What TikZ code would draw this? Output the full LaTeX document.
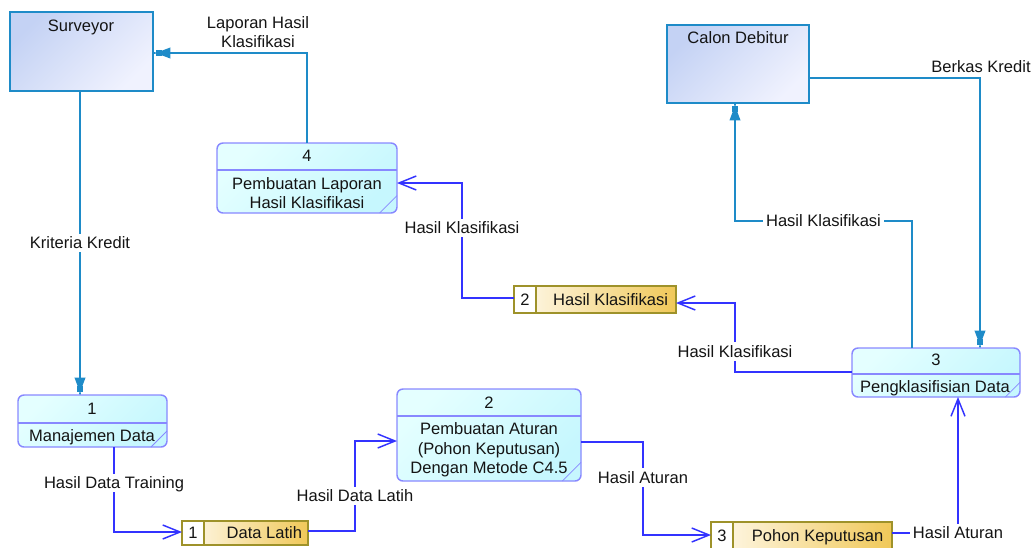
\documentclass[tikz,border=0pt]{standalone}
\usepackage{fontspec}
\setmainfont{Liberation Sans}
\usetikzlibrary{arrows.meta}
\definecolor{entedge}{RGB}{30,139,200}
\definecolor{enttop}{RGB}{196,210,244}
\definecolor{entbot}{RGB}{240,242,254}
\definecolor{procedge}{RGB}{136,136,255}
\definecolor{proctop}{RGB}{228,255,255}
\definecolor{procbot}{RGB}{198,247,254}
\definecolor{storeedge}{RGB}{158,146,42}
\definecolor{storeleft}{RGB}{255,250,238}
\definecolor{storeright}{RGB}{240,200,88}
\definecolor{flowblue}{RGB}{51,51,255}
\definecolor{ink}{RGB}{20,20,20}
\begin{document}
\begin{tikzpicture}[x=0.75pt,y=-0.75pt,
  font=\fontsize{12.4pt}{14.6pt}\selectfont, text=ink,
  every node/.style={inner sep=0pt, outer sep=0pt},
  size/.style 2 args={minimum width=#1*0.75pt, minimum height=#2*0.75pt},
  entity/.style={draw=entedge, line width=1.1pt, top color=enttop, bottom color=entbot, shading angle=45},
  process/.style={draw=procedge, line width=1.1pt, rounded corners=4.5pt, top color=proctop, bottom color=procbot, shading angle=45},
  procrule/.style={draw=procedge, line width=1.1pt},
  procfold/.style={draw=procedge, line width=0.6pt},
  store/.style={draw=storeedge, line width=1.1pt, left color=storeleft, right color=storeright},
  storenum/.style={draw=storeedge, line width=1.1pt, fill=white, one},
  one/.style={text height=8.8pt, text depth=0pt},
  txt/.style={align=center},
  lbl/.style={fill=white, inner sep=2.5pt, one},
  entflow/.style={draw=entedge, line width=1.1pt,
    -{Triangle[length=11pt,width=8pt,sep=-5pt]Rectangle[length=4.5pt,width=4pt,sep=0pt]Rectangle[length=2.5pt,width=1.1pt,sep=0pt]}},
  procflow/.style={draw=flowblue, line width=1.1pt, -{Straight Barb[length=13pt,width=10.5pt]}},
]
\useasboundingbox (0,0) rectangle (1033,547);

% external entities
\node[entity, size={143}{79}] (surv) at (81.5,51.5) {};
\node[one] (survt) at (81,26) {Surveyor};
\node[entity, size={142}{78}] (cal) at (738,64) {};
\node[one] (calt) at (738,38) {Calon Debitur};

% processes
\node[process, size={149}{52}] (p1) at (92.5,421) {};
\draw[procrule] (p1.west |- 0,423) -- (p1.east |- 0,423);
\draw[procfold] ([xshift=-12pt]p1.south east) -- ([yshift=12pt]p1.south east);
\node[one] (p1n) at (92,409) {1};
\node[one] (p1t) at (92,436) {Manajemen Data};

\node[process, size={184}{92}] (p2) at (489,435) {};
\draw[procrule] (p2.west |- 0,416) -- (p2.east |- 0,416);
\draw[procfold] ([xshift=-14pt]p2.south east) -- ([yshift=14pt]p2.south east);
\node[one] (p2n) at (489,403) {2};
\node[txt] (p2t) at (489,450) {Pembuatan Aturan\\(Pohon Keputusan)\\Dengan Metode C4.5};

\node[process, size={168}{49}] (p3) at (936,372.5) {};
\draw[procrule] (p3.west |- 0,374) -- (p3.east |- 0,374);
\draw[procfold] ([xshift=-11pt]p3.south east) -- ([yshift=11pt]p3.south east);
\node[one] (p3n) at (936,360) {3};
\node[one] (p3t) at (935,387) {Pengklasifisian Data};

\node[process, size={180}{70}] (p4) at (307,178) {};
\draw[procrule] (p4.west |- 0,170) -- (p4.east |- 0,170);
\draw[procfold] ([xshift=-13pt]p4.south east) -- ([yshift=13pt]p4.south east);
\node[one] (p4n) at (307,156) {4};
\node[txt] (p4t) at (307,193) {Pembuatan Laporan\\Hasil Klasifikasi};

% data stores
\node[store, size={126}{24}] (s1) at (245,533) {};
\node[storenum, size={22}{24}, anchor=north west] (s1n) at (s1.north west) {1};
\node[one, anchor=east] (s1t) at ([xshift=-4.5pt]s1.east) {Data Latih};

\node[store, size={162}{27}] (s2) at (595,299.5) {};
\node[storenum, size={22}{27}, anchor=north west] (s2n) at (s2.north west) {2};
\node[one, anchor=east] (s2t) at ([xshift=-6pt]s2.east) {Hasil Klasifikasi};

\node[store, size={181}{27}] (s3) at (801.5,535.5) {};
\node[storenum, size={22}{27}, anchor=north west] (s3n) at (s3.north west) {3};
\node[one, anchor=east] (s3t) at ([xshift=-6.5pt]s3.east) {Pohon Keputusan};

% flows between entities and processes
\draw[entflow] (surv.south -| 80,0) -- node[lbl] (lk) {Kriteria Kredit} (p1.north -| 80,0);
\draw[entflow] (p4.north) -- (307,53) -- (surv.east |- 0,53);
\node[txt] (ll) at (258,32) {Laporan Hasil\\Klasifikasi};
\draw[entflow] (cal.east |- 0,78) -- (980,78) -- (p3.north -| 980,0);
\node[one] (lb) at (981,67) {Berkas Kredit};
\draw[entflow] (p3.north -| 912,0) -- (912,221) -- node[lbl] (lh1) {Hasil Klasifikasi} (735,221) -- (cal.south -| 735,0);

% flows between processes and stores
\draw[procflow] (p1.south -| 114,0) -- node[lbl, pos=0.42] (lt) {Hasil Data Training} (114,532) -- (s1.west |- 0,532);
\draw[procflow] (s1.east |- 0,531) -- (355,531) -- node[lbl, pos=0.39] (ldl) {Hasil Data Latih} (355,441) -- (p2.west |- 0,441);
\draw[procflow] (p2.east |- 0,442) -- (643,442) -- node[lbl, pos=0.38] (la1) {Hasil Aturan} (643,535) -- (s3.west |- 0,535);
\draw[procflow] (s3.east |- 0,533) -- (958,533) node[lbl] (la2) {Hasil Aturan} -- (p3.south -| 958,0);
\draw[procflow] (p3.west |- 0,372) -- (735,372) -- node[lbl, pos=0.3] (lh2) {Hasil Klasifikasi} (735,303) -- (s2.east |- 0,303);
\draw[procflow] (s2.west |- 0,298) -- (462,298) -- node[lbl, pos=0.61] (lh3) {Hasil Klasifikasi} (462,183) -- (p4.east |- 0,183);
\end{tikzpicture}
\end{document}
